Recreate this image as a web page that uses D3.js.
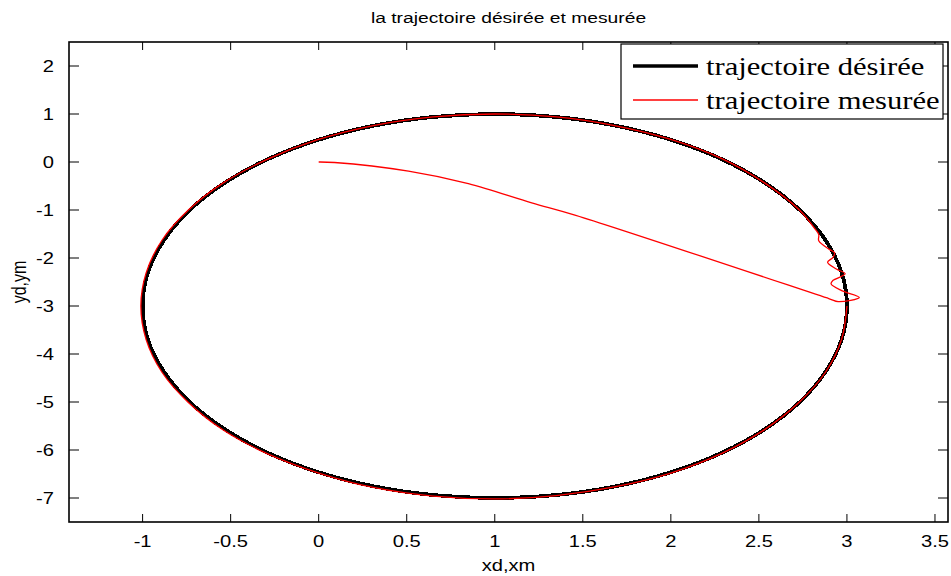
<!DOCTYPE html>
<html>
<head>
<meta charset="utf-8">
<script src="https://cdn.jsdelivr.net/npm/d3@7"></script>
<style>
  html, body { margin: 0; padding: 0; background: #fff; }
  svg { display: block; }
</style>
</head>
<body>
<svg id="chart" width="951" height="576"></svg>
<script>
// Desired trajectory (closed ellipse), sampled every 10 degrees
const desiredX = [3.000, 2.970, 2.879, 2.732, 2.532, 2.286, 2.000, 1.684, 1.347, 1.000,
  0.653, 0.316, 0.000, -0.286, -0.532, -0.732, -0.879, -0.970, -1.000,
  -0.970, -0.879, -0.732, -0.532, -0.286, 0.000, 0.316, 0.653, 1.000,
  1.347, 1.684, 2.000, 2.286, 2.532, 2.732, 2.879, 2.970];
const desiredY = [-3.000, -2.305, -1.632, -1.000, -0.429, 0.064, 0.464, 0.759, 0.939, 1.000,
  0.939, 0.759, 0.464, 0.064, -0.429, -1.000, -1.632, -2.305, -3.000,
  -3.695, -4.368, -5.000, -5.571, -6.064, -6.464, -6.759, -6.939, -7.000,
  -6.939, -6.759, -6.464, -6.064, -5.571, -5.000, -4.368, -3.695];

// Measured trajectory: approach from the origin, settling oscillation, then one lap
const measuredX = [0, 0.09, 0.51, 0.85, 1.21, 1.46,
  2.90, 2.95, 3.07, 2.97, 2.91, 2.92, 2.99, 2.94, 2.89, 2.92, 2.93, 2.90, 2.84, 2.84, 2.82,
  2.73, 2.53, 2.29, 2.00, 1.68, 1.35, 1.00, 0.65, 0.31, -0.01, -0.29, -0.54, -0.74, -0.89, -0.98, -1.01,
  -0.98, -0.89, -0.74, -0.54, -0.29, 0.00, 0.31, 0.65, 1.00, 1.35, 1.68, 2.00, 2.29, 2.53, 2.73, 2.88, 2.97, 3.00];
const measuredY = [0, -0.01, -0.19, -0.45, -0.85, -1.11,
  -2.85, -2.91, -2.82, -2.68, -2.54, -2.47, -2.33, -2.23, -2.09, -1.99, -1.89, -1.82, -1.64, -1.51, -1.40,
  -1.00, -0.43, 0.07, 0.47, 0.76, 0.94, 1.00, 0.94, 0.76, 0.46, 0.06, -0.43, -1.00, -1.63, -2.31, -3.00,
  -3.70, -4.38, -5.01, -5.59, -6.08, -6.48, -6.78, -6.96, -7.02, -6.95, -6.77, -6.48, -6.07, -5.58, -5.00, -4.37, -3.69, -3.00];

const xTicks = [-1, -0.5, 0, 0.5, 1, 1.5, 2, 2.5, 3, 3.5];
const yTicks = [2, 1, 0, -1, -2, -3, -4, -5, -6, -7];
const xDomain = [-1.418, 3.574];
const yDomain = [-7.5, 2.5];

const titleText = "la trajectoire désirée et mesurée";
const xLabelText = "xd,xm";
const yLabelText = "yd,ym";
const legendNames = ["trajectoire désirée", "trajectoire mesurée"];

const svg = d3.select("#chart");
const pLeft = 69, pRight = 948, pTop = 42, pBottom = 522;
const sx = 1.26; // horizontal stretch applied to text

const x = d3.scaleLinear().domain(xDomain).range([pLeft, pRight]);
const y = d3.scaleLinear().domain(yDomain).range([pBottom, pTop]);
const fmt = v => String(v); // plain hyphen-minus, as on the axis

function stretchedText(g, tx, ty, str, anchor) {
  return g.append("text")
    .attr("transform", `translate(${tx},${ty}) scale(${sx},1)`)
    .attr("text-anchor", anchor)
    .text(str);
}

// plot area background
svg.append("rect").attr("x", pLeft).attr("y", pTop)
  .attr("width", pRight - pLeft).attr("height", pBottom - pTop).attr("fill", "#fff");

svg.append("clipPath").attr("id", "plotclip")
  .append("rect").attr("x", pLeft).attr("y", pTop).attr("width", pRight - pLeft).attr("height", pBottom - pTop);

// trajectories
const plot = svg.append("g").attr("clip-path", "url(#plotclip)");
const desired = desiredX.map((v, i) => [v, desiredY[i]]);
const measured = measuredX.map((v, i) => [v, measuredY[i]]);

plot.append("path")
  .attr("d", d3.line().x(d => x(d[0])).y(d => y(d[1])).curve(d3.curveCatmullRomClosed.alpha(0.5))(desired))
  .attr("fill", "none").attr("stroke", "#000").attr("stroke-width", 3.8)
  .attr("shape-rendering", "crispEdges");

plot.append("path")
  .attr("d", d3.line().x(d => x(d[0])).y(d => y(d[1])).curve(d3.curveCatmullRom.alpha(0.5))(measured))
  .attr("fill", "none").attr("stroke", "#ff0000").attr("stroke-width", 1.3);

// axes box with ticks on all four sides
const axes = svg.append("g").attr("stroke", "#000").attr("fill", "none");
const tl = 8, tly = 10;
xTicks.forEach(t => {
  axes.append("line").attr("x1", x(t)).attr("x2", x(t)).attr("y1", pBottom).attr("y2", pBottom - tl).attr("stroke-width", 1);
  axes.append("line").attr("x1", x(t)).attr("x2", x(t)).attr("y1", pTop).attr("y2", pTop + tl).attr("stroke-width", 1);
});
yTicks.forEach(t => {
  axes.append("line").attr("y1", y(t)).attr("y2", y(t)).attr("x1", pLeft).attr("x2", pLeft + tly).attr("stroke-width", 1);
  axes.append("line").attr("y1", y(t)).attr("y2", y(t)).attr("x1", pRight).attr("x2", pRight - tly).attr("stroke-width", 1);
});
axes.append("rect").attr("x", pLeft).attr("y", pTop).attr("width", pRight - pLeft).attr("height", pBottom - pTop)
  .attr("stroke-width", 1.6);

// tick labels
const lab = svg.append("g").attr("font-family", "Arial, 'Liberation Sans', sans-serif")
  .attr("font-size", 16).attr("fill", "#000");
xTicks.forEach(t => stretchedText(lab, x(t), 547, fmt(t), "middle"));
yTicks.forEach(t => stretchedText(lab, 54, y(t) + 5.5, fmt(t), "end"));

// title and axis labels
const tg = svg.append("g").attr("font-family", "Arial, 'Liberation Sans', sans-serif").attr("font-size", 15.3).attr("fill", "#000");
stretchedText(tg, (pLeft + pRight) / 2, 23, titleText, "middle");
stretchedText(tg, (pLeft + pRight) / 2, 571, xLabelText, "middle").attr("font-size", 16);
tg.append("text")
  .attr("transform", `translate(26,${(pTop + pBottom) / 2}) rotate(-90) scale(1,${sx})`)
  .attr("text-anchor", "middle").attr("font-size", 16).text(yLabelText);

// legend
const lg = svg.append("g");
lg.append("rect").attr("x", 621).attr("y", 44).attr("width", 322).attr("height", 75)
  .attr("fill", "#fff").attr("stroke", "#000").attr("stroke-width", 1.2);
lg.append("line").attr("x1", 633).attr("x2", 698).attr("y1", 66).attr("y2", 66)
  .attr("stroke", "#000").attr("stroke-width", 3.5);
lg.append("line").attr("x1", 633).attr("x2", 698).attr("y1", 100).attr("y2", 100)
  .attr("stroke", "#ff0000").attr("stroke-width", 1.3);
const lt = lg.append("g").attr("font-family", "'Times New Roman', 'Liberation Serif', serif")
  .attr("font-size", 24.3).attr("fill", "#000");
stretchedText(lt, 706, 75, legendNames[0], "start");
stretchedText(lt, 706, 109, legendNames[1], "start");
</script>
</body>
</html>
